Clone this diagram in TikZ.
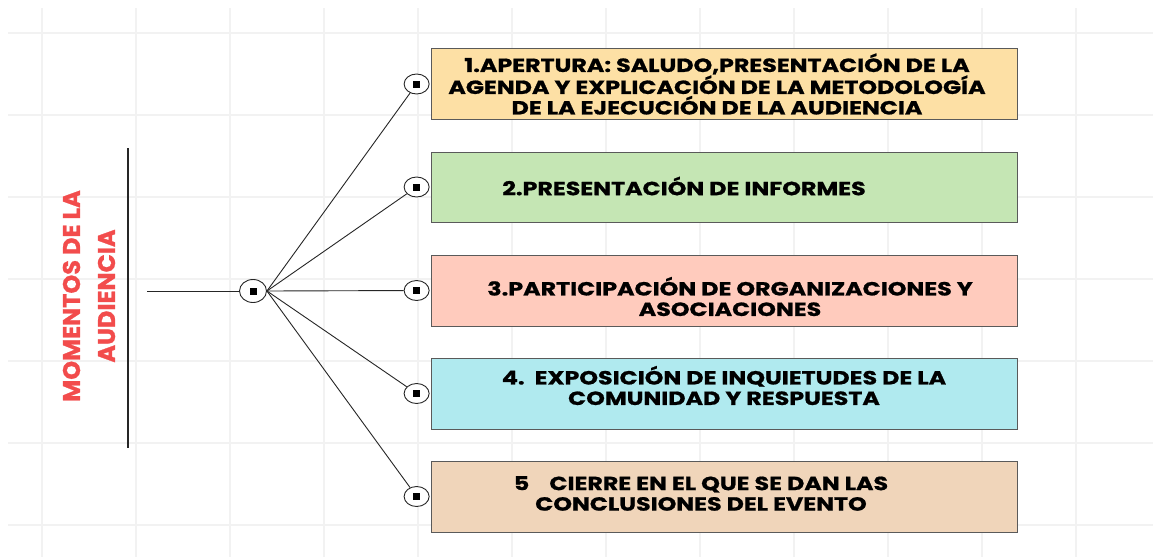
\documentclass[tikz,border=0pt]{standalone}
\usepackage{fontspec}
\setmainfont{Poppins}
\newfontfamily\cajafont{Poppins}[FakeStretch=1.25, BoldFeatures={FakeBold=1}]
\newfontfamily\titulofont{Poppins}[BoldFeatures={FakeBold=1}]
\usetikzlibrary{positioning,shapes.geometric}
\definecolor{naranja}{HTML}{FDE0A5}
\definecolor{verde}{HTML}{C5E6B4}
\definecolor{salmon}{HTML}{FFCBBD}
\definecolor{celeste}{HTML}{B0EAEF}
\definecolor{beige}{HTML}{F0D5BA}
\definecolor{rojo}{HTML}{F24C4C}
\definecolor{borde}{HTML}{5A5A5A}
\tikzset{every node/.style={font=\bfseries},
  rejilla/.style={draw=black!5, line width=1.5pt},
  caja/.style={draw=borde, line width=0.9pt, minimum width=586pt,
    minimum height=71pt, inner sep=0pt},
  texto/.style={align=center, font=\cajafont\fontsize{19}{20.5}\selectfont\bfseries},
  titulo/.style={align=center, rotate=90, text=rojo,
    font=\titulofont\fontsize{24}{35}\selectfont\bfseries},
  punto/.style={ellipse, draw=black!85, fill=white, line width=0.9pt,
    minimum width=25pt, minimum height=20pt, inner sep=0pt,
    path picture={\fill[black] ([shift={(-3.5pt,-3.5pt)}]path picture bounding box.center)
      rectangle ++(7pt,7pt);}},
  rama/.style={draw=black!85, line width=0.9pt}}

\begin{document}
\begin{tikzpicture}[x=1pt,y=-1pt]
  \useasboundingbox[fill=white] (0,0) rectangle (1153,557);
  % cuadricula de fondo
  \foreach \x in {42,136,...,1100} \draw[rejilla] (\x,8) -- (\x,557);
  \foreach \y in {33,115,...,540} \draw[rejilla] (8,\y) -- (1153,\y);

  % titulo y barra
  \node[titulo] (titulo) at (89,296) {MOMENTOS DE LA\\AUDIENCIA};
  \coordinate (barraA) at (128,148);
  \coordinate (barraB) at (128,448);
  \draw[line width=1.3pt, black!85] (barraA) -- (barraB);

  % cajas de los momentos
  \node[caja, fill=naranja] (c1) at (724,84) {};
  \node[caja, fill=verde, minimum height=70pt] (c2) at (724,187) {};
  \node[caja, fill=salmon] (c3) at (724,290.5) {};
  \node[caja, fill=celeste] (c4) at (724,393.5) {};
  \node[caja, fill=beige] (c5) at (724,496.5) {};

  \node[texto] (t1) at ([shift={(-7,0)}]c1.center)
    {1.APERTURA: SALUDO,PRESENTACIÓN DE LA\\AGENDA Y EXPLICACIÓN DE LA METODOLOGÍA\\DE LA EJECUCIÓN DE LA AUDIENCIA};
  \node[texto] (t2) at ([shift={(-40,-1)}]c2.center) {2.PRESENTACIÓN DE INFORMES};
  \node[texto] (t3) at ([shift={(6,6)}]c3.center)
    {3.PARTICIPACIÓN DE ORGANIZACIONES Y\\ASOCIACIONES};
  \node[texto] (t4) at ([shift={(0,-8)}]c4.center)
    {4.\ \ EXPOSICIÓN DE INQUIETUDES DE LA\\COMUNIDAD Y RESPUESTA};
  \node[texto] (t5) at ([shift={(-23,-3)}]c5.center)
    {5\ \ \ \ CIERRE EN EL QUE SE DAN LAS\\CONCLUSIONES DEL EVENTO};

  % puntos y ramas
  \foreach \i in {1,...,5} \node[punto, left=1pt of c\i] (p\i) {};
  \node[punto, minimum width=27pt, minimum height=23pt] (centro) at (253,291) {};
  \coordinate (inicio) at (147,291);
  \draw[rama] (inicio) -- (centro);
  \foreach \i in {1,...,5} \draw[rama] (centro.east) -- (p\i);
\end{tikzpicture}
\end{document}
